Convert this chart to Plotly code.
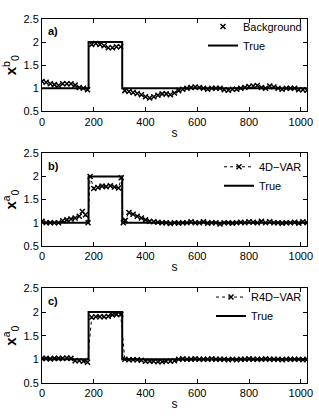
import plotly.graph_objects as go

# ---------------- data ----------------
true_s = [0, 180, 310, 1024]
true_v = [1, 2, 1, 1]

bg_s = list(range(0, 1025, 16))
bg_v = [1.15, 1.13, 1.1, 1.08, 1.06, 1.1, 1.1, 1.1, 1.07, 1.02, 1.0, 0.97,
        1.95, 1.97, 1.95, 1.92, 1.88, 1.88, 1.9, 1.9,
        0.95, 0.93, 0.91, 0.89, 0.86, 0.82, 0.79, 0.82, 0.85, 0.88, 0.88, 0.86,
        0.9, 0.95, 0.98, 1.0, 1.02, 1.03, 1.02, 1.0, 0.98, 1.0, 1.0, 1.0,
        0.97, 0.96, 0.98, 0.98, 1.0, 1.02, 1.04, 1.05, 1.06, 1.02, 1.0, 1.05,
        1.03, 1.0, 0.98, 1.0, 1.0, 1.0, 0.97, 0.97, 0.96]

var_s = [0, 16, 32, 48, 64, 80, 96, 112, 128, 144, 156, 168, 178, 186, 200,
         216, 232, 248, 264, 280, 296, 306, 314, 322, 336, 352, 368, 384, 400,
         416] + list(range(432, 1025, 16))
var_v = [1.03, 1.0, 1.0, 1.0, 1.0, 1.04, 1.06, 1.08, 1.1, 1.14, 1.24, 1.17,
         1.0, 2.0, 1.74, 1.76, 1.79, 1.78, 1.8, 1.77, 1.75, 1.97, 1.0, 1.05,
         1.22, 1.18, 1.14, 1.1, 1.06, 1.03,
         1.02, 1.01, 1.0, 1.0, 0.98, 1.0, 0.99, 1.0, 1.0, 1.02, 1.0, 1.0,
         1.02, 0.99, 1.0, 1.0, 0.97, 1.0, 1.0, 0.99, 1.0, 1.01, 1.0, 1.02,
         1.01, 1.0, 1.03, 1.0, 1.02, 1.0, 1.0, 0.99, 1.0, 1.0, 1.01, 0.99,
         1.02, 1.0]

r4d_s = list(range(0, 1025, 16))
r4d_v = [1.02, 1.02, 1.01, 1.02, 1.02, 1.02, 1.03, 1.02,
         0.97, 0.97, 0.96, 0.94,
         1.89, 1.9, 1.9, 1.9, 1.91, 1.94, 1.95, 1.95,
         1.0, 0.99, 0.99, 0.99, 0.98,
         0.96, 0.96, 0.96, 0.95, 0.95, 0.96, 0.96, 0.97,
         1.0, 1.01, 1.0, 1.0, 1.01, 1.0, 1.0, 1.0, 1.01, 1.0,
         1.0, 1.0, 0.99, 1.0, 0.99, 1.0, 1.0, 1.01, 1.0, 1.0,
         1.0, 1.01, 1.0, 1.0, 1.0, 0.99, 1.0, 1.0, 1.0, 1.0, 0.99, 1.0]

x_ticks = [0, 200, 400, 600, 800, 1000]
y_ticks = [0.5, 1, 1.5, 2, 2.5]
panel_labels = ["a)", "b)", "c)"]
series_names = ["Background", "4D\u2212VAR", "R4D\u2212VAR"]
y_titles = ["<b>x</b><sup>b</sup><sub>0</sub>",
            "<b>x</b><sup>a</sup><sub>0</sub>",
            "<b>x</b><sup>a</sup><sub>0</sub>"]

# ---------------- figure ----------------
FONT = "Liberation Sans, Arial, sans-serif"
W, H = 319, 416
ML, MR, MT, MB = 42, 12, 17, 33
PH = H - MT - MB


def py2paper(py):
    return 1 - (py - MT) / PH


def legend_key(n):
    return "legend" if n == 1 else "legend" + str(n)


fig = go.Figure()
mk = dict(symbol="x-thin", size=5, color="black",
          line=dict(width=1.5, color="black"))

series = [(bg_s, bg_v, "markers"), (var_s, var_v, "lines+markers"),
          (r4d_s, r4d_v, "lines+markers")]
# legend top edge (pixels from top) per panel
legend_tops = [10, 151, 282]

for i, (sx, sv, mode) in enumerate(series):
    sfx = "" if i == 0 else str(i + 1)
    fig.add_trace(go.Scatter(x=sx, y=sv, mode=mode, marker=mk,
                             line=dict(color="black", width=1, dash="dot"),
                             name=series_names[i], xaxis="x" + sfx,
                             yaxis="y" + sfx, legend=legend_key(i + 1),
                             showlegend=True))
    fig.add_trace(go.Scatter(x=true_s, y=true_v, mode="lines", line_shape="hv",
                             line=dict(color="black", width=2), name="True",
                             xaxis="x" + sfx, yaxis="y" + sfx,
                             legend=legend_key(i + 1), showlegend=True))

domains = [[0.746, 1.0], [0.377, 0.631], [0.0, 0.26]]
axcommon = dict(showline=True, linecolor="black", linewidth=1, mirror="ticks",
                ticks="inside", ticklen=4, tickcolor="black", showgrid=False,
                zeroline=False, automargin=False,
                tickfont=dict(size=11, color="black", family=FONT))

layout = dict(
    width=W, height=H,
    margin=dict(l=ML, r=MR, t=MT, b=MB),
    plot_bgcolor="white", paper_bgcolor="white",
    font=dict(family=FONT, color="black", size=11),
    showlegend=True,
)
annotations = []
for i in range(3):
    sfx = "" if i == 0 else str(i + 1)
    layout["xaxis" + sfx] = dict(axcommon, range=[0, 1024], tickvals=x_ticks,
                                 anchor="y" + sfx, domain=[0, 1],
                                 title=dict(text="s", font=dict(size=12), standoff=1))
    layout["yaxis" + sfx] = dict(axcommon, range=[0.5, 2.5], tickvals=y_ticks,
                                 ticktext=["0.5", "1", "1.5", "2", "2.5"],
                                 anchor="x" + sfx, domain=domains[i],
                                 title=dict(text=y_titles[i], font=dict(size=15),
                                            standoff=3))
    layout[legend_key(i + 1)] = dict(x=1.0, y=py2paper(legend_tops[i]),
                                     xanchor="right", yanchor="top",
                                     bgcolor="rgba(0,0,0,0)", borderwidth=0,
                                     font=dict(size=11, family=FONT),
                                     itemwidth=30, tracegroupgap=0)
    annotations.append(dict(text="<b>" + panel_labels[i] + "</b>",
                            x=0.015, y=domains[i][1] - 0.012,
                            xref="paper", yref="paper", xanchor="left",
                            yanchor="top", showarrow=False,
                            font=dict(size=11, family=FONT)))
layout["annotations"] = annotations
fig.update_layout(**layout)

fig.write_html(
    "out.html",
    config={"displayModeBar": False},
    post_script="document.body.style.margin='0';"
                "document.body.style.overflow='hidden';",
)
